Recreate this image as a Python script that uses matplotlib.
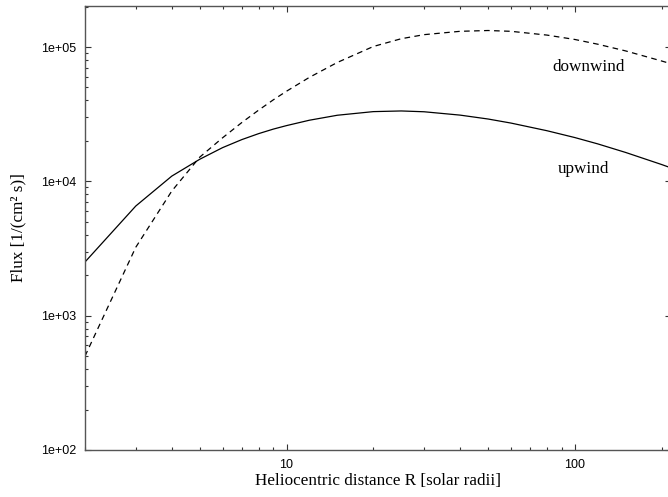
import numpy as np
import matplotlib
matplotlib.use("Agg")
import matplotlib.pyplot as plt
from matplotlib.ticker import LogLocator, FuncFormatter, NullFormatter

# heliocentric distance R [solar radii]
r_sun = [2, 3, 4, 5, 6, 7, 8, 9, 10, 12, 15, 20, 25, 30, 40, 50, 60, 80, 100, 120, 150, 200, 215]

# flux values
flux_upwind = [2510, 6550, 10940, 14600, 17820, 20460, 22650, 24490, 26000, 28510, 31050,
               33040, 33420, 32960, 31120, 29110, 27160, 23820, 21180, 19010, 16410,
               13340, 12620]
flux_downwind = [500, 3230, 8470, 15140, 21090, 27420, 33880, 40450, 46880, 59430, 76740,
                 100900, 115300, 123600, 130900, 132700, 130900, 122700, 113800, 104950,
                 93540, 78700, 75160]

serif = ['Liberation Serif', 'DejaVu Serif']
sans = ['Liberation Sans', 'DejaVu Sans']
fs_serif = 12.3

fig = plt.figure(figsize=(6.68, 4.97), dpi=100)
ax = fig.add_axes([85 / 668, 47 / 497, 585.7 / 668, 444 / 497])

ax.plot(r_sun, flux_upwind, color='black', lw=0.9, label='upwind')
ax.plot(r_sun, flux_downwind, color='black', lw=0.9, linestyle=(0, (4.5, 3.5)), label='downwind')

ax.set_xscale('log')
ax.set_yscale('log')
ax.set_xlim(2, 215)
ax.set_ylim(100, 2.02e5)

ax.xaxis.set_major_locator(LogLocator(base=10, numticks=10))
ax.xaxis.set_minor_locator(LogLocator(base=10, subs=np.arange(2, 10), numticks=20))
ax.yaxis.set_major_locator(LogLocator(base=10, numticks=10))
ax.yaxis.set_minor_locator(LogLocator(base=10, subs=np.arange(2, 10), numticks=20))
ax.xaxis.set_major_formatter(FuncFormatter(lambda v, p: '%d' % round(v)))
ax.yaxis.set_major_formatter(FuncFormatter(lambda v, p: '%.0e' % v))
ax.xaxis.set_minor_formatter(NullFormatter())
ax.yaxis.set_minor_formatter(NullFormatter())

ax.tick_params(which='both', direction='in', top=True, right=True, color='#333333', width=0.8)
ax.tick_params(which='major', length=4.5, pad=6.5)
ax.tick_params(which='minor', length=2.3)
for lab in ax.get_xticklabels() + ax.get_yticklabels():
    lab.set_family(sans)
    lab.set_fontsize(9)
for s in ax.spines.values():
    s.set_color('#555555')
    s.set_linewidth(1.0)

ax.set_xlabel('Heliocentric distance R [solar radii]', family=serif, fontsize=fs_serif, labelpad=1.5)
ax.set_ylabel('Flux [1/(cm² s)]', family=serif, fontsize=fs_serif, labelpad=10)

ax.text(112, 7.05e4, 'downwind', family=serif, fontsize=fs_serif, ha='center', va='center')
ax.text(107, 1.23e4, 'upwind', family=serif, fontsize=fs_serif, ha='center', va='center')

fig.savefig('out.png', dpi=100)
